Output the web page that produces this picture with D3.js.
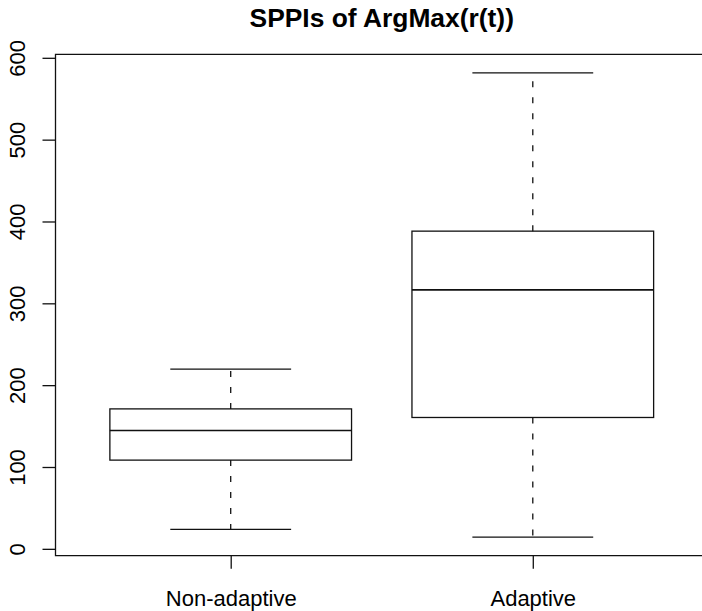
<!DOCTYPE html>
<html>
<head>
<meta charset="utf-8">
<script src="https://cdn.jsdelivr.net/npm/d3@7"></script>
<style>
  html, body { margin: 0; padding: 0; background: #fff; overflow: hidden; }
  svg { display: block; font-family: "Liberation Sans", Arial, Helvetica, sans-serif; }
</style>
</head>
<body>
<svg id="chart" width="702" height="611"></svg>
<script>
// Groups and their five-number summaries (lower whisker, Q1, median, Q3, upper whisker)
const categories = ["Non-adaptive", "Adaptive"];
const lowerWhisker = [23.7, 14.3];
const q1 = [108.4, 160.5];
const median = [144.6, 316.4];
const q3 = [171.0, 388.2];
const upperWhisker = [219.5, 581.6];
const yTicks = [0, 100, 200, 300, 400, 500, 600];
const title = "SPPIs of ArgMax(r(t))";

const stats = categories.map((c, i) => ({
  name: c, pos: i + 1,
  lo: lowerWhisker[i], q1: q1[i], med: median[i], q3: q3[i], hi: upperWhisker[i]
}));

const svg = d3.select("#chart");
const plot = { left: 55.5, right: 708, top: 54.3, bottom: 555.7 };

// y range padded by 4% on each side, the usual base-graphics convention
const yMin = d3.min(lowerWhisker), yMax = d3.max(upperWhisker);
const pad = 0.04 * (yMax - yMin);
const y = d3.scaleLinear().domain([yMin - pad, yMax + pad]).range([plot.bottom, plot.top]);
const x = d3.scaleLinear()
  .domain([0.5 - 0.04 * categories.length, categories.length + 0.5 + 0.04 * categories.length])
  .range([plot.left, plot.right]);

const boxHalf = x(1.4) - x(1);             // box width 0.8 units
const capHalf = boxHalf / 2;               // staple width half of box

const stroke = "#111";
const lw = 1.3;

// frame: the right side falls outside the drawing area
svg.append("path")
  .attr("d", `M${plot.right},${plot.top}H${plot.left}V${plot.bottom}H${plot.right}`)
  .attr("fill", "none").attr("stroke", stroke).attr("stroke-width", lw);

const g = svg.append("g").selectAll("g").data(stats).join("g");

// whiskers (dashed), drawn outward from the box
g.append("line")
  .attr("x1", d => x(d.pos)).attr("x2", d => x(d.pos))
  .attr("y1", d => y(d.q3)).attr("y2", d => y(d.hi))
  .attr("stroke", stroke).attr("stroke-width", lw).attr("stroke-dasharray", "6,10");
g.append("line")
  .attr("x1", d => x(d.pos)).attr("x2", d => x(d.pos))
  .attr("y1", d => y(d.q1)).attr("y2", d => y(d.lo))
  .attr("stroke", stroke).attr("stroke-width", lw).attr("stroke-dasharray", "6,10");

// staples
g.append("line")
  .attr("x1", d => x(d.pos) - capHalf).attr("x2", d => x(d.pos) + capHalf)
  .attr("y1", d => y(d.hi)).attr("y2", d => y(d.hi))
  .attr("stroke", stroke).attr("stroke-width", lw);
g.append("line")
  .attr("x1", d => x(d.pos) - capHalf).attr("x2", d => x(d.pos) + capHalf)
  .attr("y1", d => y(d.lo)).attr("y2", d => y(d.lo))
  .attr("stroke", stroke).attr("stroke-width", lw);

// box
g.append("rect")
  .attr("x", d => x(d.pos) - boxHalf).attr("width", 2 * boxHalf)
  .attr("y", d => y(d.q3)).attr("height", d => y(d.q1) - y(d.q3))
  .attr("fill", "none").attr("stroke", stroke).attr("stroke-width", lw);

// median
g.append("line")
  .attr("x1", d => x(d.pos) - boxHalf).attr("x2", d => x(d.pos) + boxHalf)
  .attr("y1", d => y(d.med)).attr("y2", d => y(d.med))
  .attr("stroke", stroke).attr("stroke-width", 1.6);

// y axis
const yAxis = d3.axisLeft(y).tickValues(yTicks).tickSize(13).tickPadding(0).tickFormat(d3.format("d"));
const ya = svg.append("g").attr("transform", `translate(${plot.left},0)`).call(yAxis);
ya.select(".domain").remove();
ya.selectAll(".tick line").attr("stroke", stroke).attr("stroke-width", lw);
ya.selectAll(".tick text")
  .attr("x", 0).attr("dy", null)
  .attr("transform", `translate(${25 - plot.left},0) rotate(-90)`)
  .attr("text-anchor", "middle").attr("fill", "#000")
  .style("font-size", "22px");

// x axis
const xAxis = d3.axisBottom(x).tickValues(stats.map(d => d.pos)).tickSize(13)
  .tickFormat(v => categories[v - 1]);
const xa = svg.append("g").attr("transform", `translate(0,${plot.bottom})`).call(xAxis);
xa.select(".domain").remove();
xa.selectAll(".tick line").attr("stroke", stroke).attr("stroke-width", lw);
xa.selectAll(".tick text")
  .attr("y", 50).attr("dy", null)
  .attr("fill", "#000").style("font-size", "22px");

// title
svg.append("text")
  .attr("x", (plot.left + plot.right) / 2).attr("y", 27)
  .attr("text-anchor", "middle")
  .style("font-size", "26.4px").style("font-weight", "bold")
  .text(title);
</script>
</body>
</html>
